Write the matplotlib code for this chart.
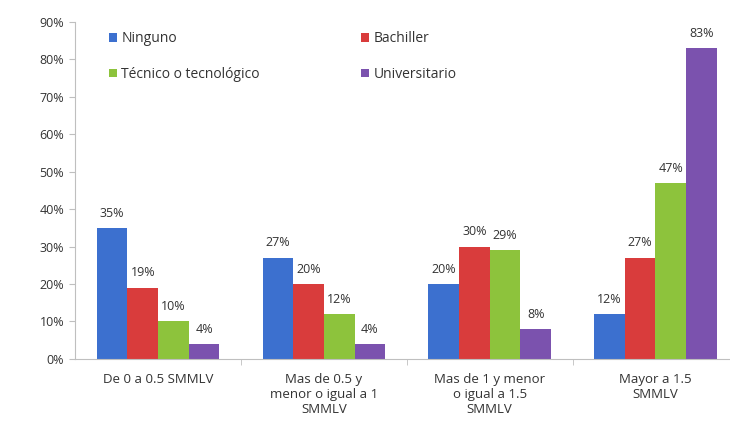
import matplotlib.pyplot as plt
import numpy as np

categories = ['De 0 a 0.5 SMMLV', 'Mas de 0.5 y\nmenor o igual a 1\nSMMLV',
              'Mas de 1 y menor\no igual a 1.5\nSMMLV', 'Mayor a 1.5\nSMMLV']
series_names = ['Ninguno', 'Bachiller', 'Técnico o tecnológico', 'Universitario']
ninguno = [35, 27, 20, 12]
bachiller = [19, 20, 30, 27]
tecnico = [10, 12, 29, 47]
universitario = [4, 4, 8, 83]
yticks = [0, 10, 20, 30, 40, 50, 60, 70, 80, 90]

colors = ['#3C70CF', '#D93C3C', '#8DC33C', '#7B52AE']
series = [ninguno, bachiller, tecnico, universitario]

plt.rcParams['font.family'] = ['Open Sans', 'DejaVu Sans']

fig = plt.figure(figsize=(7.3, 4.47), dpi=100)
ax = fig.add_axes([0.103, 0.197, 0.897, 0.754])

x = np.arange(len(categories))
w = 0.185
for i, (name, vals) in enumerate(zip(series_names, series)):
    pos = x + (i - 1.5) * w
    bars = ax.bar(pos, vals, w, color=colors[i], label=name)
    for b, v in zip(bars, vals):
        ax.annotate(f'{v}%', (b.get_x() + b.get_width() / 2, v),
                    xytext=(0, 6), textcoords='offset points',
                    ha='center', va='bottom', fontsize=9, color='#333333')

ax.set_xlim(-0.5, 3.45)
ax.set_ylim(0, 90)
ax.set_yticks(yticks)
ax.set_yticklabels([f'{t}%' for t in yticks], fontsize=9, color='#333333')
ax.set_xticks(x)
ax.set_xticklabels(categories, fontsize=9.5, color='#333333', linespacing=1.2)
ax.set_xticks([0.5, 1.5, 2.5], minor=True)
ax.tick_params(axis='x', which='major', length=0, pad=10)
ax.tick_params(axis='x', which='minor', length=4, color='#bfbfbf')
ax.tick_params(axis='y', length=4, color='#bfbfbf', pad=4)

for s in ['top', 'right']:
    ax.spines[s].set_visible(False)
for s in ['left', 'bottom']:
    ax.spines[s].set_color('#bfbfbf')

# legend fills column-wise, so reorder to get Ninguno/Bachiller on the first row
h, l = ax.get_legend_handles_labels()
order = [0, 2, 1, 3]
ax.legend([h[k] for k in order], [l[k] for k in order], ncol=2, loc='upper left',
          bbox_to_anchor=(0.032, 1.01), frameon=False,
          fontsize=10, handlelength=0.6, handleheight=0.6, handletextpad=0.3,
          columnspacing=7.3, labelspacing=1.5, labelcolor='#333333')

fig.savefig('out.png', dpi=100)
